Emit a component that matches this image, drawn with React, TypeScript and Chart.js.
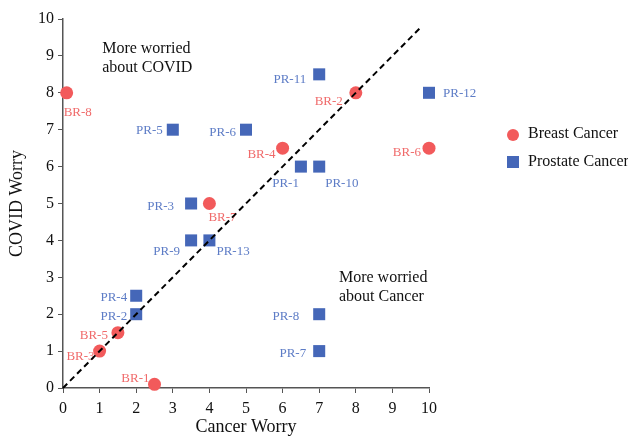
import React, { useEffect, useRef } from "react";
import { Chart, registerables } from "chart.js";

Chart.register(...registerables);

// ---- Data ----
const breastLabels = ["BR-1", "BR-2", "BR-3", "BR-4", "BR-5", "BR-6", "BR-7", "BR-8"];
const breastCancerWorry = [2.5, 8, 1, 6, 1.5, 10, 4, 0.1];
const breastCovidWorry = [0.1, 8, 1, 6.5, 1.5, 6.5, 5, 8];

const prostateLabels = [
  "PR-1", "PR-2", "PR-3", "PR-4", "PR-5", "PR-6", "PR-7",
  "PR-8", "PR-9", "PR-10", "PR-11", "PR-12", "PR-13",
];
const prostateCancerWorry = [6.5, 2, 3.5, 2, 3, 5, 7, 7, 3.5, 7, 7, 10, 4];
const prostateCovidWorry = [6, 2, 5, 2.5, 7, 7, 1, 2, 4, 6, 8.5, 8, 4];

const diagonalX = [0, 9.8];
const axisTicks = [0, 1, 2, 3, 4, 5, 6, 7, 8, 9, 10];

const seriesNames = ["Breast Cancer", "Prostate Cancer"];
const xTitle = "Cancer Worry";
const yTitle = "COVID Worry";
const noteCovid = ["More worried", "about COVID"];
const noteCancer = ["More worried", "about Cancer"];
const noteCovidAt = [1.07, 9.2];
const noteCancerAt = [7.54, 3.0];

// ---- Style: label placement per point [dx, dy, align] ----
const breastLabelPlace: [number, number, CanvasTextAlign][] = [
  [-5, -6, "right"],
  [-13, 9, "right"],
  [-5, 5, "right"],
  [-7, 6, "right"],
  [-10, 3, "right"],
  [-8, 4, "right"],
  [-1, 14, "left"],
  [-3, 20, "left"],
];
const prostateLabelPlace: [number, number, CanvasTextAlign][] = [
  [-2, 17, "right"],
  [-9, 2, "right"],
  [-17, 3, "right"],
  [-9, 2, "right"],
  [-10, 1, "right"],
  [-10, 3, "right"],
  [-13, 2, "right"],
  [-20, 2, "right"],
  [-11, 11, "right"],
  [6, 17, "left"],
  [-13, 5, "right"],
  [14, 1, "left"],
  [7, 11, "left"],
];

const RED = "#F25A5B";
const BLUE = "#4567B8";
const RED_TXT = "#F06A6A";
const BLUE_TXT = "#5D7CC6";
const FONT = "'Liberation Serif', 'Times New Roman', serif";

const overlayPlugin = {
  id: "overlay",
  beforeDatasetsDraw(chart: any) {
    const ctx = chart.ctx;
    ctx.save();
    ctx.font = `13px ${FONT}`;
    ctx.textBaseline = "middle";
    const drawSet = (idx: number, labels: string[], place: any[], color: string) => {
      const meta = chart.getDatasetMeta(idx);
      meta.data.forEach((el: any, i: number) => {
        const [dx, dy, align] = place[i];
        ctx.fillStyle = color;
        ctx.textAlign = align;
        ctx.fillText(labels[i], el.x + dx, el.y + dy);
      });
    };
    drawSet(1, breastLabels, breastLabelPlace, RED_TXT);
    drawSet(2, prostateLabels, prostateLabelPlace, BLUE_TXT);

    // annotations
    const xs = chart.scales.x;
    const ys = chart.scales.y;
    ctx.font = `16px ${FONT}`;
    ctx.fillStyle = "#111";
    ctx.textAlign = "left";
    const note = (lines: string[], at: number[]) => {
      const px = xs.getPixelForValue(at[0]);
      const py = ys.getPixelForValue(at[1]);
      lines.forEach((l, i) => ctx.fillText(l, px, py + i * 19));
    };
    note(noteCovid, noteCovidAt);
    note(noteCancer, noteCancerAt);
    ctx.restore();
  },
  afterDraw(chart: any) {
    const ctx = chart.ctx;
    ctx.save();
    // custom legend
    const lx = 513;
    const ly = [134, 162];
    ctx.fillStyle = RED;
    ctx.beginPath();
    ctx.arc(lx, ly[0] + 1, 6, 0, Math.PI * 2);
    ctx.fill();
    ctx.fillStyle = BLUE;
    ctx.fillRect(lx - 6, ly[1] - 6, 12, 12);
    ctx.font = `16px ${FONT}`;
    ctx.fillStyle = "#111";
    ctx.textAlign = "left";
    ctx.textBaseline = "middle";
    ctx.fillText(seriesNames[0], 528, ly[0]);
    ctx.fillText(seriesNames[1], 528, ly[1]);
    ctx.restore();
  },
};

export default function App() {
  const ref = useRef<HTMLCanvasElement | null>(null);
  useEffect(() => {
    if (!ref.current) return;
    const chart = new Chart(ref.current, {
      type: "scatter",
      data: {
        datasets: [
          {
            type: "line",
            label: "diagonal",
            data: diagonalX.map((v) => ({ x: v, y: v })),
            borderColor: "#000",
            borderWidth: 2,
            borderDash: [6, 4],
            pointRadius: 0,
            fill: false,
            order: 0,
            clip: false,
          } as any,
          {
            label: seriesNames[0],
            data: breastCancerWorry.map((x, i) => ({ x, y: breastCovidWorry[i] })),
            backgroundColor: RED,
            borderWidth: 0,
            pointStyle: "circle",
            pointRadius: 6.5,
            order: 2,
            clip: false,
          } as any,
          {
            label: seriesNames[1],
            data: prostateCancerWorry.map((x, i) => ({ x, y: prostateCovidWorry[i] })),
            backgroundColor: BLUE,
            borderWidth: 0,
            pointStyle: "rect",
            pointRadius: 8.5,
            order: 1,
            clip: false,
          } as any,
        ],
      },
      options: {
        responsive: false,
        animation: false,
        layout: { padding: { top: 19, right: 199, left: 0, bottom: 0 } },
        plugins: {
          legend: { display: false },
          tooltip: { enabled: false },
        },
        scales: {
          x: {
            type: "linear",
            min: 0,
            max: 10,
            afterBuildTicks: (s: any) => {
              s.ticks = axisTicks.map((v) => ({ value: v }));
            },
            afterFit: (s: any) => {
              s.height = 50;
            },
            ticks: { color: "#111", font: { family: FONT, size: 16 }, padding: 6 },
            grid: { drawOnChartArea: false, drawTicks: true, tickLength: 5, color: "#555" },
            border: { color: "#555", width: 1.5 },
            title: {
              display: true,
              text: xTitle,
              color: "#111",
              font: { family: FONT, size: 18 },
              padding: { top: 4, bottom: 0 },
            },
          },
          y: {
            type: "linear",
            min: 0,
            max: 10,
            afterBuildTicks: (s: any) => {
              s.ticks = axisTicks.map((v) => ({ value: v }));
            },
            afterFit: (s: any) => {
              s.width = 63;
            },
            ticks: { color: "#111", font: { family: FONT, size: 16 }, padding: 4 },
            grid: { drawOnChartArea: false, drawTicks: true, tickLength: 5, color: "#555" },
            border: { color: "#555", width: 1.5 },
            title: {
              display: true,
              text: yTitle,
              color: "#111",
              font: { family: FONT, size: 18 },
              padding: { top: 6, bottom: 4 },
            },
          },
        },
      },
      plugins: [overlayPlugin],
    });
    return () => chart.destroy();
  }, []);
  return (
    <div style={{ position: "fixed", left: 0, top: 0, width: 628, height: 438, background: "#fff" }}>
      <canvas ref={ref} width={628} height={438} />
    </div>
  );
}
